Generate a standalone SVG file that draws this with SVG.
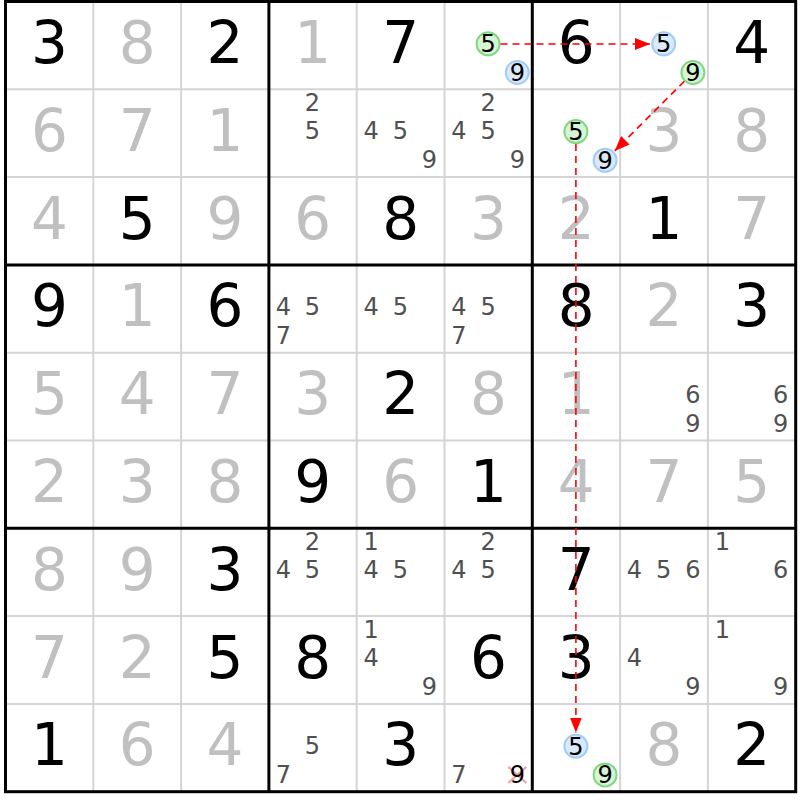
<svg xmlns="http://www.w3.org/2000/svg" width="800" height="800" viewBox="0 0 800 800">
<style>
text{font-family:"DejaVu Sans",Verdana,sans-serif;text-anchor:middle}
text.g{font-size:58px;fill:#000}
text.s{font-size:58px;fill:#c0c0c0}
text.c{font-size:24px;fill:#505050}
text.k{font-size:24px;fill:#000}
.thin{stroke:#d4d4d4;stroke-width:2}
.thick{stroke:#000;stroke-width:3}
.on{fill:#d6f5d6;stroke:#80d880;stroke-width:2}
.off{fill:#d8eafc;stroke:#a4ccf6;stroke-width:2}
.link{stroke:#f00;stroke-width:1.6;stroke-dasharray:7 5;fill:none}
.x{stroke:#f4a4a4;stroke-width:2.2}
</style>
<defs>
<marker id="ah" markerUnits="userSpaceOnUse" markerWidth="15" markerHeight="12" refX="15" refY="6" orient="auto">
<path d="M0,0 L15,6 L0,12 z" fill="#f00"/>
</marker>
</defs>
<rect width="800" height="800" fill="#fff"/>
<g id="grid">
<g class="thin">
<line x1="93.3" y1="1.5" x2="93.3" y2="791.7"/><line x1="181.1" y1="1.5" x2="181.1" y2="791.7"/>
<line x1="356.7" y1="1.5" x2="356.7" y2="791.7"/><line x1="444.5" y1="1.5" x2="444.5" y2="791.7"/>
<line x1="620.1" y1="1.5" x2="620.1" y2="791.7"/><line x1="707.9" y1="1.5" x2="707.9" y2="791.7"/>
<line x1="5.5" y1="89.3" x2="795.7" y2="89.3"/><line x1="5.5" y1="177.1" x2="795.7" y2="177.1"/>
<line x1="5.5" y1="352.7" x2="795.7" y2="352.7"/><line x1="5.5" y1="440.5" x2="795.7" y2="440.5"/>
<line x1="5.5" y1="616.1" x2="795.7" y2="616.1"/><line x1="5.5" y1="703.9" x2="795.7" y2="703.9"/>
</g>
<g class="thick">
<line x1="268.9" y1="1.5" x2="268.9" y2="791.7"/><line x1="532.3" y1="1.5" x2="532.3" y2="791.7"/>
<line x1="5.5" y1="264.9" x2="795.7" y2="264.9"/><line x1="5.5" y1="528.3" x2="795.7" y2="528.3"/>
<rect x="5.5" y="1.5" width="790.2" height="790.2" fill="none"/>
</g>
</g>
<g id="cells">
<!-- row 0 -->
<g id="r0c0" transform="translate(5.5,1.5)"><text class="g" x="43.9" y="61.5">3</text></g>
<g id="r0c1" transform="translate(93.3,1.5)"><text class="s" x="43.9" y="61.5">8</text></g>
<g id="r0c2" transform="translate(181.1,1.5)"><text class="g" x="43.9" y="61.5">2</text></g>
<g id="r0c3" transform="translate(268.9,1.5)"><text class="s" x="43.9" y="61.5">1</text></g>
<g id="r0c4" transform="translate(356.7,1.5)"><text class="g" x="43.9" y="61.5">7</text></g>
<g id="r0c5" transform="translate(444.5,1.5)"><circle class="on" cx="43.6" cy="42.3" r="11.5"/><text class="k" x="43.6" y="50.8">5</text><circle class="off" cx="72.8" cy="71" r="11.5"/><text class="k" x="72.8" y="79.5">9</text></g>
<g id="r0c6" transform="translate(532.3,1.5)"><text class="g" x="43.9" y="61.5">6</text></g>
<g id="r0c7" transform="translate(620.1,1.5)"><circle class="off" cx="43.6" cy="42.3" r="11.5"/><text class="k" x="43.6" y="50.8">5</text><circle class="on" cx="72.8" cy="71" r="11.5"/><text class="k" x="72.8" y="79.5">9</text></g>
<g id="r0c8" transform="translate(707.9,1.5)"><text class="g" x="43.9" y="61.5">4</text></g>
<!-- row 1 -->
<g id="r1c0" transform="translate(5.5,89.3)"><text class="s" x="43.9" y="61.5">6</text></g>
<g id="r1c1" transform="translate(93.3,89.3)"><text class="s" x="43.9" y="61.5">7</text></g>
<g id="r1c2" transform="translate(181.1,89.3)"><text class="s" x="43.9" y="61.5">1</text></g>
<g id="r1c3" transform="translate(268.9,89.3)"><text class="c" x="43.6" y="21.5">2</text><text class="c" x="43.6" y="50.2">5</text></g>
<g id="r1c4" transform="translate(356.7,89.3)"><text class="c" x="14.4" y="50.2">4</text><text class="c" x="43.6" y="50.2">5</text><text class="c" x="72.8" y="78.9">9</text></g>
<g id="r1c5" transform="translate(444.5,89.3)"><text class="c" x="43.6" y="21.5">2</text><text class="c" x="14.4" y="50.2">4</text><text class="c" x="43.6" y="50.2">5</text><text class="c" x="72.8" y="78.9">9</text></g>
<g id="r1c6" transform="translate(532.3,89.3)"><circle class="on" cx="43.6" cy="42.3" r="11.5"/><text class="k" x="43.6" y="50.8">5</text><circle class="off" cx="72.8" cy="71" r="11.5"/><text class="k" x="72.8" y="79.5">9</text></g>
<g id="r1c7" transform="translate(620.1,89.3)"><text class="s" x="43.9" y="61.5">3</text></g>
<g id="r1c8" transform="translate(707.9,89.3)"><text class="s" x="43.9" y="61.5">8</text></g>
<!-- row 2 -->
<g id="r2c0" transform="translate(5.5,177.1)"><text class="s" x="43.9" y="61.5">4</text></g>
<g id="r2c1" transform="translate(93.3,177.1)"><text class="g" x="43.9" y="61.5">5</text></g>
<g id="r2c2" transform="translate(181.1,177.1)"><text class="s" x="43.9" y="61.5">9</text></g>
<g id="r2c3" transform="translate(268.9,177.1)"><text class="s" x="43.9" y="61.5">6</text></g>
<g id="r2c4" transform="translate(356.7,177.1)"><text class="g" x="43.9" y="61.5">8</text></g>
<g id="r2c5" transform="translate(444.5,177.1)"><text class="s" x="43.9" y="61.5">3</text></g>
<g id="r2c6" transform="translate(532.3,177.1)"><text class="s" x="43.9" y="61.5">2</text></g>
<g id="r2c7" transform="translate(620.1,177.1)"><text class="g" x="43.9" y="61.5">1</text></g>
<g id="r2c8" transform="translate(707.9,177.1)"><text class="s" x="43.9" y="61.5">7</text></g>
<!-- row 3 -->
<g id="r3c0" transform="translate(5.5,264.9)"><text class="g" x="43.9" y="61.5">9</text></g>
<g id="r3c1" transform="translate(93.3,264.9)"><text class="s" x="43.9" y="61.5">1</text></g>
<g id="r3c2" transform="translate(181.1,264.9)"><text class="g" x="43.9" y="61.5">6</text></g>
<g id="r3c3" transform="translate(268.9,264.9)"><text class="c" x="14.4" y="50.2">4</text><text class="c" x="43.6" y="50.2">5</text><text class="c" x="14.4" y="78.9">7</text></g>
<g id="r3c4" transform="translate(356.7,264.9)"><text class="c" x="14.4" y="50.2">4</text><text class="c" x="43.6" y="50.2">5</text></g>
<g id="r3c5" transform="translate(444.5,264.9)"><text class="c" x="14.4" y="50.2">4</text><text class="c" x="43.6" y="50.2">5</text><text class="c" x="14.4" y="78.9">7</text></g>
<g id="r3c6" transform="translate(532.3,264.9)"><text class="g" x="43.9" y="61.5">8</text></g>
<g id="r3c7" transform="translate(620.1,264.9)"><text class="s" x="43.9" y="61.5">2</text></g>
<g id="r3c8" transform="translate(707.9,264.9)"><text class="g" x="43.9" y="61.5">3</text></g>
<!-- row 4 -->
<g id="r4c0" transform="translate(5.5,352.7)"><text class="s" x="43.9" y="61.5">5</text></g>
<g id="r4c1" transform="translate(93.3,352.7)"><text class="s" x="43.9" y="61.5">4</text></g>
<g id="r4c2" transform="translate(181.1,352.7)"><text class="s" x="43.9" y="61.5">7</text></g>
<g id="r4c3" transform="translate(268.9,352.7)"><text class="s" x="43.9" y="61.5">3</text></g>
<g id="r4c4" transform="translate(356.7,352.7)"><text class="g" x="43.9" y="61.5">2</text></g>
<g id="r4c5" transform="translate(444.5,352.7)"><text class="s" x="43.9" y="61.5">8</text></g>
<g id="r4c6" transform="translate(532.3,352.7)"><text class="s" x="43.9" y="61.5">1</text></g>
<g id="r4c7" transform="translate(620.1,352.7)"><text class="c" x="72.8" y="50.2">6</text><text class="c" x="72.8" y="78.9">9</text></g>
<g id="r4c8" transform="translate(707.9,352.7)"><text class="c" x="72.8" y="50.2">6</text><text class="c" x="72.8" y="78.9">9</text></g>
<!-- row 5 -->
<g id="r5c0" transform="translate(5.5,440.5)"><text class="s" x="43.9" y="61.5">2</text></g>
<g id="r5c1" transform="translate(93.3,440.5)"><text class="s" x="43.9" y="61.5">3</text></g>
<g id="r5c2" transform="translate(181.1,440.5)"><text class="s" x="43.9" y="61.5">8</text></g>
<g id="r5c3" transform="translate(268.9,440.5)"><text class="g" x="43.9" y="61.5">9</text></g>
<g id="r5c4" transform="translate(356.7,440.5)"><text class="s" x="43.9" y="61.5">6</text></g>
<g id="r5c5" transform="translate(444.5,440.5)"><text class="g" x="43.9" y="61.5">1</text></g>
<g id="r5c6" transform="translate(532.3,440.5)"><text class="s" x="43.9" y="61.5">4</text></g>
<g id="r5c7" transform="translate(620.1,440.5)"><text class="s" x="43.9" y="61.5">7</text></g>
<g id="r5c8" transform="translate(707.9,440.5)"><text class="s" x="43.9" y="61.5">5</text></g>
<!-- row 6 -->
<g id="r6c0" transform="translate(5.5,528.3)"><text class="s" x="43.9" y="61.5">8</text></g>
<g id="r6c1" transform="translate(93.3,528.3)"><text class="s" x="43.9" y="61.5">9</text></g>
<g id="r6c2" transform="translate(181.1,528.3)"><text class="g" x="43.9" y="61.5">3</text></g>
<g id="r6c3" transform="translate(268.9,528.3)"><text class="c" x="43.6" y="21.5">2</text><text class="c" x="14.4" y="50.2">4</text><text class="c" x="43.6" y="50.2">5</text></g>
<g id="r6c4" transform="translate(356.7,528.3)"><text class="c" x="14.4" y="21.5">1</text><text class="c" x="14.4" y="50.2">4</text><text class="c" x="43.6" y="50.2">5</text></g>
<g id="r6c5" transform="translate(444.5,528.3)"><text class="c" x="43.6" y="21.5">2</text><text class="c" x="14.4" y="50.2">4</text><text class="c" x="43.6" y="50.2">5</text></g>
<g id="r6c6" transform="translate(532.3,528.3)"><text class="g" x="43.9" y="61.5">7</text></g>
<g id="r6c7" transform="translate(620.1,528.3)"><text class="c" x="14.4" y="50.2">4</text><text class="c" x="43.6" y="50.2">5</text><text class="c" x="72.8" y="50.2">6</text></g>
<g id="r6c8" transform="translate(707.9,528.3)"><text class="c" x="14.4" y="21.5">1</text><text class="c" x="72.8" y="50.2">6</text></g>
<!-- row 7 -->
<g id="r7c0" transform="translate(5.5,616.1)"><text class="s" x="43.9" y="61.5">7</text></g>
<g id="r7c1" transform="translate(93.3,616.1)"><text class="s" x="43.9" y="61.5">2</text></g>
<g id="r7c2" transform="translate(181.1,616.1)"><text class="g" x="43.9" y="61.5">5</text></g>
<g id="r7c3" transform="translate(268.9,616.1)"><text class="g" x="43.9" y="61.5">8</text></g>
<g id="r7c4" transform="translate(356.7,616.1)"><text class="c" x="14.4" y="21.5">1</text><text class="c" x="14.4" y="50.2">4</text><text class="c" x="72.8" y="78.9">9</text></g>
<g id="r7c5" transform="translate(444.5,616.1)"><text class="g" x="43.9" y="61.5">6</text></g>
<g id="r7c6" transform="translate(532.3,616.1)"><text class="g" x="43.9" y="61.5">3</text></g>
<g id="r7c7" transform="translate(620.1,616.1)"><text class="c" x="14.4" y="50.2">4</text><text class="c" x="72.8" y="78.9">9</text></g>
<g id="r7c8" transform="translate(707.9,616.1)"><text class="c" x="14.4" y="21.5">1</text><text class="c" x="72.8" y="78.9">9</text></g>
<!-- row 8 -->
<g id="r8c0" transform="translate(5.5,703.9)"><text class="g" x="43.9" y="61.5">1</text></g>
<g id="r8c1" transform="translate(93.3,703.9)"><text class="s" x="43.9" y="61.5">6</text></g>
<g id="r8c2" transform="translate(181.1,703.9)"><text class="s" x="43.9" y="61.5">4</text></g>
<g id="r8c3" transform="translate(268.9,703.9)"><text class="c" x="43.6" y="50.2">5</text><text class="c" x="14.4" y="78.9">7</text></g>
<g id="r8c4" transform="translate(356.7,703.9)"><text class="g" x="43.9" y="61.5">3</text></g>
<g id="r8c5" transform="translate(444.5,703.9)"><text class="c" x="14.4" y="78.9">7</text><line class="x" x1="63.8" y1="63" x2="81.8" y2="79"/><line class="x" x1="81.8" y1="63" x2="63.8" y2="79"/><text class="k" x="72.8" y="78.9">9</text></g>
<g id="r8c6" transform="translate(532.3,703.9)"><circle class="off" cx="43.6" cy="42.3" r="11.5"/><text class="k" x="43.6" y="50.8">5</text><circle class="on" cx="72.8" cy="71" r="11.5"/><text class="k" x="72.8" y="79.5">9</text></g>
<g id="r8c7" transform="translate(620.1,703.9)"><text class="s" x="43.9" y="61.5">8</text></g>
<g id="r8c8" transform="translate(707.9,703.9)"><text class="g" x="43.9" y="61.5">2</text></g>
</g>
<g id="connectors">
<line class="link" x1="500.5" y1="44" x2="650" y2="44" marker-end="url(#ah)"/>
<line class="link" x1="684.4" y1="81.2" x2="614.7" y2="150.9" marker-end="url(#ah)"/>
<line class="link" x1="575.9" y1="144" x2="575.9" y2="732.5" marker-end="url(#ah)"/>
</g>
</svg>
